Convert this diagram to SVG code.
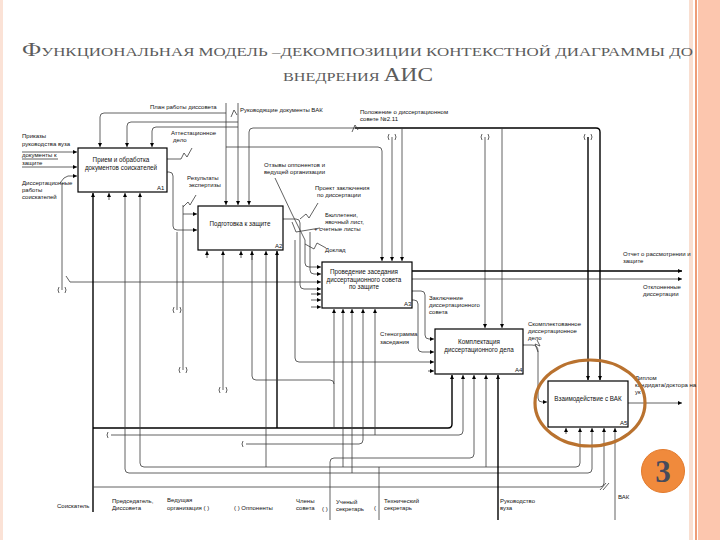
<svg xmlns="http://www.w3.org/2000/svg" width="720" height="540" viewBox="0 0 720 540">
<style>
.ln{fill:none;stroke:#3a3a3a;stroke-width:0.8}
.tk{fill:none;stroke:#000;stroke-width:1.4}
.box{fill:#fff;stroke:#000;stroke-width:1.2}
.t{font-family:"Liberation Sans",Arial,sans-serif;font-size:6px;fill:#111}
.bt{font-family:"Liberation Sans",Arial,sans-serif;font-size:6.3px;fill:#111;text-anchor:middle}
.tt{font-family:"Liberation Serif","Times New Roman",serif;fill:#5c5c5c}
</style>
<defs>
<marker id="a" viewBox="0 0 6 6" refX="6" refY="3" markerWidth="4" markerHeight="4" orient="auto" markerUnits="userSpaceOnUse"><path d="M0,0 L6,3 L0,6 z" fill="#000"/></marker>
</defs>
<rect width="720" height="540" fill="#fff"/>
<g id="frame">
<rect x="0" y="0" width="3" height="540" fill="#fbe2d6"/>
<rect x="689" y="0" width="4" height="540" fill="#f9dfd1"/>
<rect x="695" y="0" width="2" height="540" fill="#ee9d78"/>
<rect x="698" y="0" width="22" height="540" fill="#fcc6ae"/>
</g>
<g id="title">
<text class="tt" x="22" y="56" textLength="671" lengthAdjust="spacingAndGlyphs"><tspan font-size="18">Ф</tspan><tspan font-size="12.5">УНКЦИОНАЛЬНАЯ МОДЕЛЬ –ДЕКОМПОЗИЦИИ КОНТЕКСТНОЙ ДИАГРАММЫ ДО</tspan></text>
<text class="tt" x="283" y="81" textLength="150" lengthAdjust="spacingAndGlyphs"><tspan font-size="12.5">ВНЕДРЕНИЯ </tspan><tspan font-size="18">АИС</tspan></text>
</g>
<g id="connectors">
<path class="ln" d="M226,103 V205" marker-end="url(#a)"/>
<path class="ln" d="M226,113 H104 Q100,113 100,117 V147" marker-end="url(#a)"/>
<path class="ln" d="M226,147 H378 Q382,147 382,151 V261" marker-end="url(#a)"/>
<path class="ln" d="M238,103 V205" marker-end="url(#a)"/>
<path class="ln" d="M238,122 H131 Q127,122 127,126 V147" marker-end="url(#a)"/>
<path class="ln" d="M238,127 H156 Q152,127 152,131 V147" marker-end="url(#a)"/>
<path class="ln" d="M231,117 L234,110 L237,115"/>
<path class="tk" d="M355,128 H596 Q600,128 600,132 V380" marker-end="url(#a)"/>
<path class="ln" d="M355,128 H253 Q249,128 249,132 V205" marker-end="url(#a)"/>
<path class="ln" d="M402,128 V261" marker-end="url(#a)"/>
<path class="ln" d="M502,128 V328" marker-end="url(#a)"/>
<path class="ln" d="M352,132 L355,125 L358,130"/>
<path class="ln" d="M392,137 V261" marker-end="url(#a)"/>
<path class="ln" d="M485,137 V328" marker-end="url(#a)"/>
<path class="tk" d="M588,137 V380" marker-end="url(#a)"/>
<path class="ln" d="M389,134 q-2,3 0,6 M395,134 q2,3 0,6 M482,134 q-2,3 0,6 M488,134 q2,3 0,6 M585,134 q-2,3 0,6 M591,134 q2,3 0,6"/>
<path class="ln" d="M22,152 H77" marker-end="url(#a)"/>
<path class="ln" d="M22,159 H58"/>
<path class="ln" d="M22,167 H77" marker-end="url(#a)"/>
<path class="ln" d="M60,183 L64,178 L68,176 H77" marker-end="url(#a)"/>
<path class="ln" d="M62,183 V290"/>
<path class="ln" d="M59,287 q-2,3 0,6 M65,287 q2,3 0,6"/>
<path class="ln" d="M167,159 H181 L184,153 L187,157 L192,148"/>
<path class="ln" d="M167,172 H169 Q173,172 173,176 V226 Q173,230 177,230 H197" marker-end="url(#a)"/>
<path class="ln" d="M183,205 V370"/>
<path class="ln" d="M183,214 H197" marker-end="url(#a)"/>
<path class="ln" d="M183,207 L188,202 L190,205 L196,195"/>
<path class="ln" d="M177,232 V310"/>
<path class="ln" d="M174,307 q-2,3 0,6 M180,307 q2,3 0,6 M180,367 q-2,3 0,6 M186,367 q2,3 0,6"/>
<path class="ln" d="M283,219 H296 Q300,219 300,223 V285 Q300,289 304,289 H321" marker-end="url(#a)"/>
<path class="ln" d="M300,219 L306,214 L309,218 L318,203"/>
<path class="ln" d="M275,178 L292,214 L305,240 V263 Q305,267 309,267 H321" marker-end="url(#a)"/>
<path class="ln" d="M305,244 L314,249 L317,243 L326,248"/>
<path class="ln" d="M292,222 L296,232 L320,228"/>
<path class="ln" d="M310,232 V270 Q310,274 314,274 H321" marker-end="url(#a)"/>
<path class="ln" d="M66,276 L70,282 H321" marker-end="url(#a)"/>
<path class="ln" d="M311,294 H321" marker-end="url(#a)"/>
<path class="ln" d="M311,300 H321" marker-end="url(#a)"/>
<path class="ln" d="M311,307 H321" marker-end="url(#a)"/>
<path class="tk" d="M412,271 H682" marker-end="url(#a)"/>
<path class="ln" d="M412,279 H682" marker-end="url(#a)"/>
<path class="ln" d="M412,291 H421 Q425,291 425,295 V335 Q425,339 429,339 H434" marker-end="url(#a)"/>
<path class="ln" d="M412,300 H414 Q418,300 418,304 V348 Q418,352 422,352 H434" marker-end="url(#a)"/>
<path class="ln" d="M295,240 V358 Q295,362 299,362 H434" marker-end="url(#a)"/>
<path class="ln" d="M428,371 H434" marker-end="url(#a)"/>
<path class="ln" d="M523,345 H532 Q538,345 538,351 V398 Q538,402 542,402 H547" marker-end="url(#a)"/>
<path class="ln" d="M538,352 L535,344 L540,346 L537,340"/>
<path class="ln" d="M628,403 H682" marker-end="url(#a)"/>
<path class="tk" d="M93,512 V193" marker-end="url(#a)"/>
<path class="tk" d="M93,428 H448 Q452,428 452,424 V375" marker-end="url(#a)"/>
<path class="tk" d="M277,428 V251" marker-end="url(#a)"/>
<path class="ln" d="M334,428 V309" marker-end="url(#a)"/>
<path class="ln" d="M111,435 H459 Q463,435 463,431 V375" marker-end="url(#a)"/>
<path class="ln" d="M108,432 q-2,3 0,6"/>
<path class="ln" d="M375,435 V309" marker-end="url(#a)"/>
<path class="ln" d="M246,444 H359 Q363,444 363,440 V309" marker-end="url(#a)"/>
<path class="ln" d="M243,441 q-2,3 0,6"/>
<path class="ln" d="M330,520 V462 Q330,458 334,458 H470 Q474,458 474,454 V375" marker-end="url(#a)"/>
<path class="ln" d="M140,463 Q140,467 144,467 H576 Q580,467 580,463 V428" marker-end="url(#a)"/>
<path class="ln" d="M140,463 V193" marker-end="url(#a)"/>
<path class="ln" d="M379,520 V467"/>
<path class="ln" d="M266,467 V251" marker-end="url(#a)"/>
<path class="ln" d="M343,467 V309" marker-end="url(#a)"/>
<path class="ln" d="M486,467 V375" marker-end="url(#a)"/>
<path class="ln" d="M125,469 Q125,473 129,473 H588 Q592,473 592,469 V428" marker-end="url(#a)"/>
<path class="ln" d="M125,469 V193" marker-end="url(#a)"/>
<path class="ln" d="M352,473 V309" marker-end="url(#a)"/>
<path class="ln" d="M93,487 H600 Q604,487 604,483 V428" marker-end="url(#a)"/>
<path class="ln" d="M252,251 V376 Q252,380 256,380 H330 Q334,380 334,384"/>
<path class="ln" d="M252,260 V251" marker-end="url(#a)"/>
<path class="ln" d="M223,390 V251" marker-end="url(#a)"/>
<path class="ln" d="M220,387 q-2,3 0,6 M226,387 q2,3 0,6"/>
<path class="ln" d="M109,200 V193" marker-end="url(#a)"/>
<path class="ln" d="M207,258 V251" marker-end="url(#a)"/>
<path class="ln" d="M241,258 V251" marker-end="url(#a)"/>
<path class="tk" d="M498,520 V375" marker-end="url(#a)"/>
<path class="ln" d="M566,434 V428" marker-end="url(#a)"/>
<path class="ln" d="M615,520 V428" marker-end="url(#a)"/>
<path class="ln" d="M600,490 L606,483 M603,490 L609,483"/>
</g>
<g id="node-A1">
<rect class="box" x="78" y="148" width="89" height="44"/>
<text class="bt" x="121" y="162">Прием и обработка</text>
<text class="bt" x="121" y="170">документов соискателей</text>
<text class="t" x="157" y="190">A1</text>
</g>
<g id="node-A2">
<rect class="box" x="198" y="206" width="85" height="44"/>
<text class="bt" x="240" y="226">Подготовка к защите</text>
<text class="t" x="275" y="248">A2</text>
</g>
<g id="node-A3">
<rect class="box" x="322" y="262" width="90" height="46"/>
<text class="bt" x="364" y="274" font-size="5.3">Проведение заседания</text>
<text class="bt" x="364" y="282">диссертационного совета</text>
<text class="bt" x="364" y="289">по защите</text>
<text class="t" x="404" y="306">A3</text>
</g>
<g id="node-A4">
<rect class="box" x="435" y="329" width="88" height="45"/>
<text class="bt" x="479" y="344">Комплектация</text>
<text class="bt" x="479" y="352">диссертационного дела</text>
<text class="t" x="515" y="372">A4</text>
</g>
<g id="node-A5">
<rect class="box" x="548" y="381" width="80" height="46"/>
<text class="bt" x="588" y="401">Взаимодействие с ВАК</text>
<text class="t" x="620" y="425">А5</text>
</g>
<g id="labels">
<text class="t" x="150" y="109">План работы диссовета</text>
<text class="t" x="240" y="112">Руководящие документы ВАК</text>
<text class="t" x="360" y="114">Положение о диссертационном</text>
<text class="t" x="360" y="121">совете №2.11</text>
<text class="t" x="22" y="138">Приказы</text>
<text class="t" x="22" y="146">руководства вуза</text>
<text class="t" x="22" y="157">документы к</text>
<text class="t" x="22" y="165">защите</text>
<text class="t" x="22" y="185">Диссертационные</text>
<text class="t" x="22" y="192">работы</text>
<text class="t" x="22" y="199">соискателей</text>
<text class="t" x="171" y="135">Аттестационное</text>
<text class="t" x="173" y="142">дело</text>
<text class="t" x="187" y="180">Результаты</text>
<text class="t" x="189" y="187">экспертизы</text>
<text class="t" x="264" y="167">Отзывы оппонентов и</text>
<text class="t" x="264" y="174">ведущей организации</text>
<text class="t" x="315" y="190">Проект заключения</text>
<text class="t" x="317" y="197">по диссертации</text>
<text class="t" x="325" y="217">Бюллетени,</text>
<text class="t" x="325" y="224">явочный лист,</text>
<text class="t" x="314" y="231" font-size="5">+ счетные листы</text>
<text class="t" x="325" y="252">Доклад</text>
<text class="t" x="623" y="256">Отчет о рассмотрении и</text>
<text class="t" x="623" y="263">защите</text>
<text class="t" x="643" y="289">Отклоненные</text>
<text class="t" x="643" y="296">диссертации</text>
<text class="t" x="429" y="300">Заключение</text>
<text class="t" x="429" y="307">диссертационного</text>
<text class="t" x="429" y="314">совета</text>
<text class="t" x="380" y="336">Стенограмма</text>
<text class="t" x="380" y="344">заседания</text>
<text class="t" x="528" y="326">Скомплектованное</text>
<text class="t" x="528" y="333">диссертационное</text>
<text class="t" x="528" y="340">дело</text>
<text class="t" x="635" y="380">Диплом</text>
<text class="t" x="635" y="387">кандидата/доктора на</text>
<text class="t" x="635" y="394">ук</text>
<text class="t" x="57" y="508">Соискатель</text>
<text class="t" x="112" y="503">Председатель,</text>
<text class="t" x="112" y="510">Диссовета</text>
<text class="t" x="167" y="502">Ведущая</text>
<text class="t" x="167" y="510">организация  (  )</text>
<text class="t" x="234" y="510">(  ) Оппоненты</text>
<text class="t" x="296" y="503">Члены</text>
<text class="t" x="296" y="510">совета</text>
<text class="t" x="322" y="511">(  )</text>
<text class="t" x="336" y="504">Ученый</text>
<text class="t" x="336" y="511">секретарь</text>
<text class="t" x="374" y="510">(</text>
<text class="t" x="384" y="503">Технический</text>
<text class="t" x="384" y="510">секретарь</text>
<text class="t" x="500" y="503">Руководство</text>
<text class="t" x="500" y="510">вуза</text>
<text class="t" x="618" y="499">ВАК</text>
</g>
<g id="highlight">
<ellipse cx="590" cy="403" rx="55" ry="43" fill="none" stroke="#b9722f" stroke-width="3.2"/>
<circle cx="663" cy="471" r="21.5" fill="#f08a3c" stroke="#e27a2c" stroke-width="1"/>
<text x="663" y="482" text-anchor="middle" font-family="'Liberation Serif','Times New Roman',serif" font-weight="bold" font-size="31" fill="#464b5c">3</text>
</g>
</svg>
